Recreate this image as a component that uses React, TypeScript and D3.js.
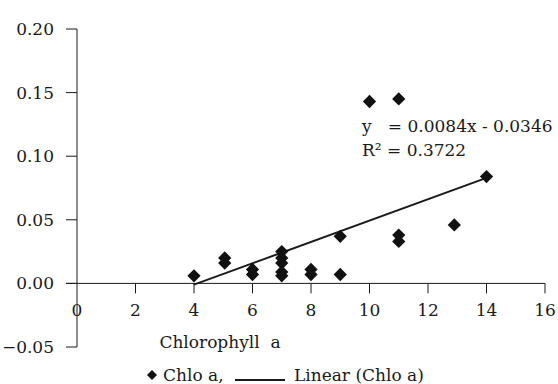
import React, { useEffect, useRef } from 'react';
import * as d3 from 'd3';

// Chlorophyll a (x) vs measured value (y)
const chloX = [4, 5.05, 5.05, 6, 6, 7, 7, 7, 7, 7, 8, 8, 9, 9, 10, 11, 11, 11, 12.9, 14];
const chloY = [
  0.006, 0.02, 0.016, 0.011, 0.007, 0.025, 0.02, 0.016, 0.009, 0.006, 0.011, 0.007, 0.037,
  0.007, 0.143, 0.145, 0.038, 0.033, 0.046, 0.084,
];
const xTicks = [0, 2, 4, 6, 8, 10, 12, 14, 16];
const yTicks = [-0.05, 0, 0.05, 0.1, 0.15, 0.2];
const slope = 0.0084;
const intercept = -0.0346;
const rSquared = 0.3722;

const W = 558;
const H = 384;
const FONT = "'DejaVu Serif', serif";

const App: React.FC = () => {
  const ref = useRef<SVGSVGElement>(null);

  useEffect(() => {
    if (!ref.current) return;
    const svg = d3.select(ref.current);
    svg.selectAll('*').remove();

    const x = d3.scaleLinear().domain([0, 16]).range([77, 545]);
    const y = d3.scaleLinear().domain([-0.05, 0.2]).range([347, 29]);
    const ink = '#1a1a1a';

    const label = (s: string, px: number, py: number, anchor = 'start') =>
      svg
        .append('text')
        .text(s)
        .attr('x', px)
        .attr('y', py)
        .attr('text-anchor', anchor)
        .attr('font-family', FONT)
        .attr('font-size', 17)
        .attr('fill', ink)
        .attr('xml:space', 'preserve')
        .style('white-space', 'pre');

    // y axis
    svg
      .append('line')
      .attr('x1', x(0))
      .attr('x2', x(0))
      .attr('y1', y(0.2))
      .attr('y2', y(-0.05))
      .attr('stroke', ink);
    svg
      .selectAll('.ytick')
      .data(yTicks)
      .enter()
      .append('line')
      .attr('x1', x(0) - 11)
      .attr('x2', x(0))
      .attr('y1', (d) => y(d))
      .attr('y2', (d) => y(d))
      .attr('stroke', ink);
    yTicks.forEach((d) => label(d3.format('.2f')(d), 54, y(d) + 6, 'end'));

    // x axis
    svg
      .append('line')
      .attr('x1', x(0) - 11)
      .attr('x2', x(16))
      .attr('y1', y(0))
      .attr('y2', y(0))
      .attr('stroke', ink);
    svg
      .selectAll('.xtick')
      .data(xTicks.filter((d) => d > 0))
      .enter()
      .append('line')
      .attr('x1', (d) => x(d))
      .attr('x2', (d) => x(d))
      .attr('y1', y(0))
      .attr('y2', y(0) + 10)
      .attr('stroke', ink);
    xTicks.forEach((d) => label(String(d), x(d), 316, 'middle'));

    label('Chlorophyll  a', 220, 348, 'middle');

    // trendline
    const xs = d3.extent(chloX) as [number, number];
    svg
      .append('line')
      .attr('x1', x(xs[0]))
      .attr('y1', y(slope * xs[0] + intercept))
      .attr('x2', x(xs[1]))
      .attr('y2', y(slope * xs[1] + intercept))
      .attr('stroke', ink)
      .attr('stroke-width', 2);

    // points
    const diamond = d3.symbol(d3.symbolSquare, 88);
    svg
      .selectAll('.pt')
      .data(chloX.map((v, i) => [v, chloY[i]]))
      .enter()
      .append('path')
      .attr('d', diamond()!)
      .attr('transform', (d) => `translate(${x(d[0])},${y(d[1])}) rotate(45)`)
      .attr('fill', '#111');

    // equation
    label(`y   = ${slope}x - ${Math.abs(intercept)}`, 362, 132);
    label(`R² = ${rSquared}`, 362, 156);

    // legend
    svg
      .append('path')
      .attr('d', d3.symbol(d3.symbolSquare, 50)()!)
      .attr('transform', 'translate(152,375) rotate(45)')
      .attr('fill', '#111');
    label('Chlo a,', 163, 381);
    svg
      .append('line')
      .attr('x1', 235)
      .attr('x2', 285)
      .attr('y1', 380)
      .attr('y2', 380)
      .attr('stroke', ink)
      .attr('stroke-width', 2);
    label('Linear (Chlo a)', 294, 381);
  }, []);

  return (
    <svg
      ref={ref}
      width={W}
      height={H}
      style={{ position: 'absolute', left: 0, top: 0, background: '#fff' }}
    />
  );
};

export default App;
